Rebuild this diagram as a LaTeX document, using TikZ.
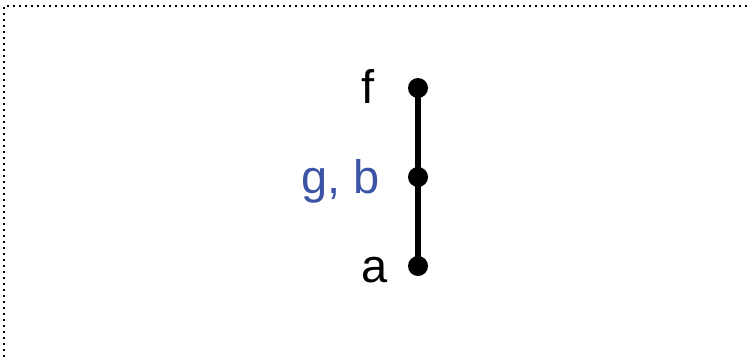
\documentclass[tikz,border=0pt]{standalone}
\usepackage{fontspec}
\setmainfont{Liberation Sans}
\definecolor{lblblue}{RGB}{60,84,166}
\begin{document}
\begin{tikzpicture}[x=1pt,y=-1pt,
  vtx/.style={circle,fill=black,inner sep=0pt,minimum size=20pt},
  lbl/.style={anchor=base east,inner sep=0pt,font=\fontsize{47}{47}\selectfont},
  edge/.style={line width=6pt},
  frame/.style={line width=2pt,dash pattern=on 2pt off 4pt}]
\useasboundingbox (0,0) rectangle (749,357);
\coordinate (tl) at (4,6);
\coordinate (tr) at (749,6);
\coordinate (bl) at (4,357);
\draw[frame] (bl) -- (tl) -- (tr);
\node[vtx] (f) at (418,88) {};
\node[vtx] (g) at (418,177) {};
\node[vtx] (a) at (418,266) {};
\draw[edge] (f.center) -- (g.center);
\draw[edge] (g.center) -- (a.center);
\node[lbl] (lf) at (375,103) {f};
\node[lbl,text=lblblue] (lg) at (380,193) {g, b};
\node[lbl] (la) at (388,282) {a};
\end{tikzpicture}
\end{document}
